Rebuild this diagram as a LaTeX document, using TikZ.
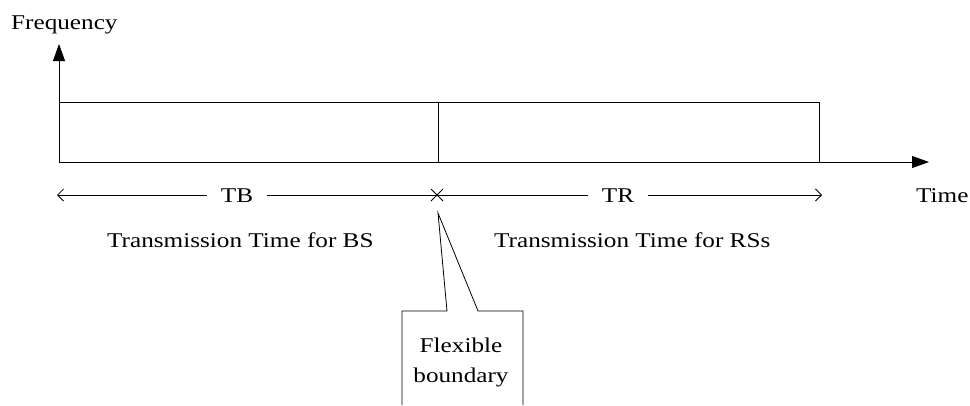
\documentclass[tikz,border=0pt]{standalone}
\usepackage{fontspec}
\setmainfont[FakeStretch=1.2]{Liberation Serif}
\usetikzlibrary{arrows.meta}
\begin{document}
\begin{tikzpicture}[x=1pt,y=-1pt,
  every node/.style={font=\fontsize{21}{23}\selectfont, inner sep=0pt},
  ln/.style={line width=0.8pt, black},
  axis/.style={ln, -{Triangle[length=17pt,width=12pt]}},
  dim/.style={ln, -{Straight Barb[length=6pt,width=12pt,line width=0.8pt]}},
  dimlabel/.style={inner xsep=14pt, inner ysep=0pt}]
\useasboundingbox (0,0) rectangle (970,405);
% axes
\coordinate (O) at (59,162);
\coordinate (ftip) at (59,44);
\coordinate (ttip) at (929,162);
\draw[axis] (O) -- (ftip);
\draw[axis] (O) -- (ttip);
\node[anchor=base west] (freq) at (11,29) {Frequency};
\node[anchor=base west] (time) at (916,202) {Time};
% frame split into the two transmission periods
\draw[ln] (59,102) rectangle (819,162);
\coordinate (splitT) at (438,102);
\coordinate (splitB) at (438,162);
\draw[ln] (splitT) -- (splitB);
% dimension line with the boundary mark
\node[dimlabel, anchor=base] (tb) at (237,202) {TB};
\node[dimlabel, anchor=base] (tr) at (618,202) {TR};
\coordinate (mark) at (437,195);
\coordinate (dl) at (57,195);
\coordinate (dr) at (822,195);
\draw[dim] (tb.west |- mark) -- (dl);
\draw[ln] (tb.east |- mark) -- (tr.west |- mark);
\draw[dim] (tr.east |- mark) -- (dr);
\draw[ln] (mark) ++(-6,-6) -- ++(12,12) (mark) ++(-6,6) -- ++(12,-12);
% period captions
\node[anchor=base west] (bs) at (107,247) {Transmission Time for BS};
\node[anchor=base west] (rs) at (494,247) {Transmission Time for RSs};
% callout for the flexible boundary
\coordinate (ptr) at (438,213);
\node[align=center, font=\fontsize{21}{30}\selectfont, anchor=base] (flex) at (461,382) {Flexible\\boundary};
\draw[ln, line join=miter] (402,405) -- (402,311) -- (447,311) -- (ptr) -- (478,311) -- (523,311) -- (523,405);
\end{tikzpicture}
\end{document}
